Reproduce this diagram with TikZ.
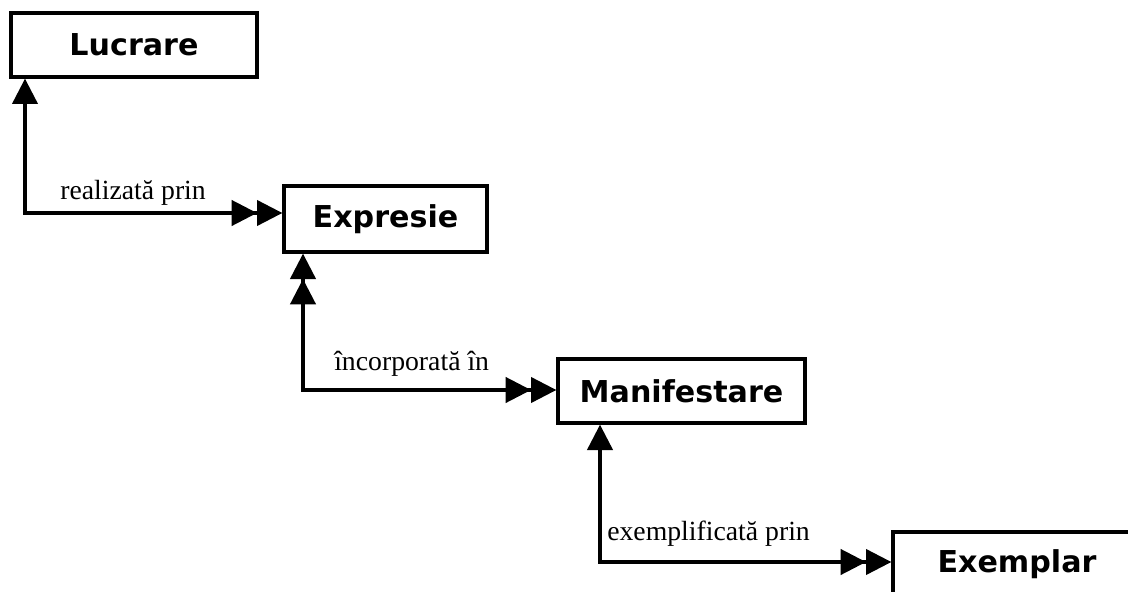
\documentclass[tikz,border=0pt]{standalone}
\usepackage{fontspec}
\setmainfont{Liberation Serif}
\newfontfamily\boxfont{DejaVu Sans}
\usepackage{tikz}
\usetikzlibrary{
    arrows.meta,
    positioning,
    calc
}

\begin{document}
\begin{tikzpicture}[
    x=0.75pt, y=-0.75pt,
    entity/.style={
        rectangle, draw, line width=2.5pt,
        minimum height=48pt, inner sep=0pt,
        font=\boxfont\bfseries\fontsize{22.6pt}{26pt}\selectfont
    },
    rel/.style={
        anchor=base west, inner sep=0pt,
        font=\fontsize{20.8pt}{24pt}\selectfont
    },
    link/.style={line width=2.3pt},
    tip/.tip={Triangle[length=19pt, width=19pt, sep=0pt]},
    twotip/.tip={Triangle[length=19pt, width=19pt, sep=0pt]Triangle[length=19pt, width=19pt, sep=0pt]}
]

\clip (0,0) rectangle (1128,592);

% The four entities, stepping down to the right
\node[entity, minimum width=184.5pt] (lucrare) at (134, 45) {Lucrare};
\node[entity, minimum width=152.25pt, minimum height=49.5pt] (expresie) at (385.5, 219) {Expresie};
\node[entity, minimum width=185.25pt] (manif) at (681.5, 391) {Manifestare};
\node[entity, minimum width=186pt] (exemplar) at (1017, 564) {Exemplar};

% Corners of the connectors
\coordinate (k1) at (25, 213);
\coordinate (k2) at (303, 390);
\coordinate (k3) at (600, 562);

% Connectors
\draw[link, {tip}-{twotip}] (k1 |- lucrare.south) -- (k1) -- (k1 -| expresie.west);
\draw[link, {twotip}-{twotip}] (k2 |- expresie.south) -- (k2) -- (k2 -| manif.west);
\draw[link, {tip}-{twotip}] (k3 |- manif.south) -- (k3) -- (k3 -| exemplar.west);

% Relation labels
\node[rel] (lbl1) at (60, 199) {realizată prin};
\node[rel] (lbl2) at (334, 370) {încorporată în};
\node[rel] (lbl3) at (607, 540) {exemplificată prin};

\end{tikzpicture}
\end{document}
